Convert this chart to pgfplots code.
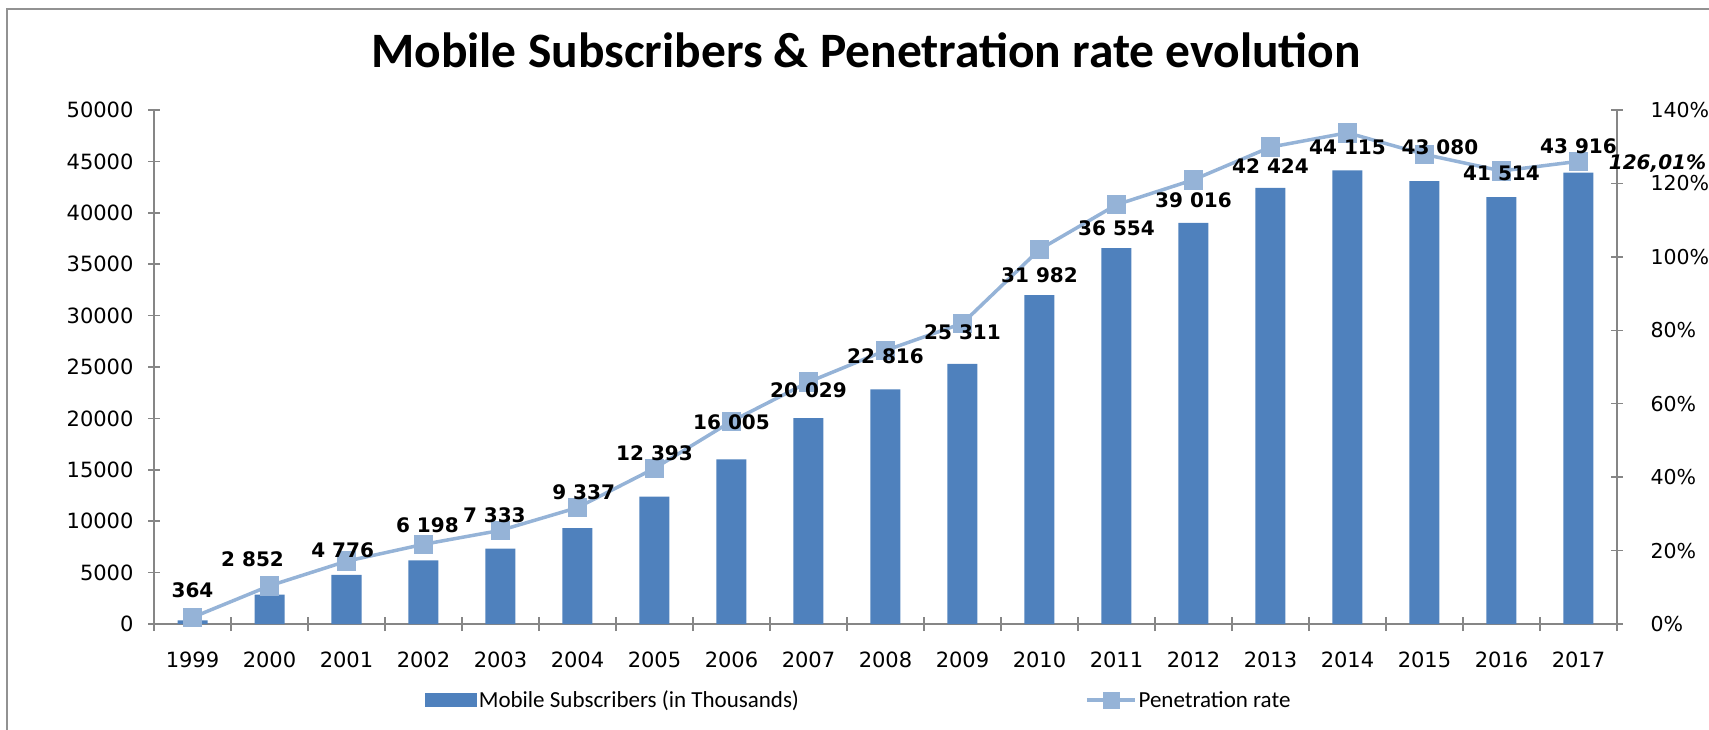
\documentclass[border=0pt]{standalone}
\usepackage{fontspec}
\usepackage{pgfplots}
\pgfplotsset{compat=1.18}
\setmainfont{DejaVu Sans}
\newfontfamily\calfont{Carlito}
\definecolor{barblue}{HTML}{4F81BD}
\definecolor{lineblue}{HTML}{95B3D7}
\definecolor{axgray}{HTML}{868686}
\begin{document}
\begin{tikzpicture}[x=1pt,y=1pt]
\useasboundingbox (0,0) rectangle (1709,729);
\draw[axgray!90, line width=2pt] (7,-2) -- (7,720) -- (1712,720);
\node[font=\calfont\bfseries\fontsize{49.5}{58}\selectfont, anchor=base] at (866,661) {Mobile Subscribers \& Penetration rate evolution};
\begin{axis}[
  at={(154pt,105pt)}, anchor=south west, scale only axis,
  width=1463pt, height=514pt,
  xmin=-0.5, xmax=18.5, ymin=0, ymax=50000,
  scaled y ticks=false,
  axis lines*=left, axis line style={-, draw=axgray, line width=1.8pt},
  ytick={0,5000,...,50000},
  yticklabels={0,5000,10000,15000,20000,25000,30000,35000,40000,45000,50000},
  xtick={0,...,18},
  xticklabels={1999,2000,2001,2002,2003,2004,2005,2006,2007,2008,2009,2010,2011,2012,2013,2014,2015,2016,2017},
  minor xtick={-0.5,0.5,...,18.5},
  major x tick style={draw=none},
  tick align=center, major tick length=12pt, minor tick length=14pt,
  tick style={draw=axgray, line width=1.5pt},
  yticklabel style={font=\fontsize{21}{24}\selectfont, xshift=-11pt},
  xticklabel style={font=\fontsize{21}{24}\selectfont, yshift=-18pt},
  legend style={at={(0.185,-0.148)}, anchor=west, draw=none, fill=none, inner sep=0pt,
    font=\calfont\fontsize{23}{27}\selectfont, legend columns=2,
    /tikz/every even column/.append style={column sep=284pt}},
  legend cell align=left,
]
\addplot[ybar, bar width=30pt, fill=barblue, draw=none,
  legend image code/.code={\fill[barblue] (0pt,-7pt) rectangle (52pt,7pt);}]
  coordinates {(0,364) (1,2852) (2,4776) (3,6198) (4,7333) (5,9337) (6,12393) (7,16005) (8,20029) (9,22816) (10,25311) (11,31982) (12,36554) (13,39016) (14,42424) (15,44115) (16,43080) (17,41514) (18,43916)};
\addlegendentry{Mobile Subscribers (in Thousands)}
\addlegendimage{legend image code/.code={\draw[lineblue, line width=3.5pt] (0pt,0pt) -- (48pt,0pt); \fill[lineblue] (16pt,-8pt) rectangle (32pt,8pt);}}
\addlegendentry{Penetration rate}
\end{axis}
\begin{axis}[
  at={(154pt,105pt)}, anchor=south west, scale only axis,
  width=1463pt, height=514pt, clip=false,
  xmin=-0.5, xmax=18.5, ymin=0, ymax=140,
  axis y line*=right, axis x line=none, axis line style={-, draw=axgray, line width=1.8pt},
  ytick={0,20,...,140},
  yticklabels={0\%,20\%,40\%,60\%,80\%,100\%,120\%,140\%},
  tick align=center, major tick length=12pt,
  tick style={draw=axgray, line width=1.5pt},
  yticklabel style={font=\fontsize{20.5}{24}\selectfont, xshift=24pt},
]
\addplot[lineblue, line width=3.5pt, mark=square*, mark size=8pt, mark options={fill=lineblue, draw=none}]
  coordinates {(0,1.8) (1,10.4) (2,17.1) (3,21.7) (4,25.5) (5,31.7) (6,42.4) (7,55.2) (8,65.9) (9,74.5) (10,81.9) (11,102) (12,114.2) (13,121) (14,129.9) (15,133.8) (16,127.9) (17,123.4) (18,126.01)};
\addplot[draw=none, nodes near coords, point meta=explicit symbolic,
  every node near coord/.append style={anchor=center, font=\bfseries\fontsize{20}{24}\selectfont, inner sep=0pt}]
  coordinates {(0,9.3) [364] (0.78,17.7) [2 852] (1.95,20.0) [4 776] (3.05,27.0) [6 198] (3.92,29.7) [7 333] (5.08,35.9) [9 337] (6,46.6) [12 393] (7,54.9) [16 005] (8,63.8) [20 029] (9,73.0) [22 816] (10,79.5) [25 311] (11,94.9) [31 982] (12,107.7) [36 554] (13,115.4) [39 016] (14,124.6) [42 424] (15,129.9) [44 115] (16.2,129.9) [43 080] (17,122.8) [41 514] (18,130.2) [43 916]};
\addplot[draw=none, nodes near coords, point meta=explicit symbolic,
  every node near coord/.append style={anchor=east, font=\bfseries\itshape\fontsize{20}{24}\selectfont, inner sep=0pt}]
  coordinates {(19.66,125.5) [126{,}01\%]};
\end{axis}
\end{tikzpicture}
\end{document}
